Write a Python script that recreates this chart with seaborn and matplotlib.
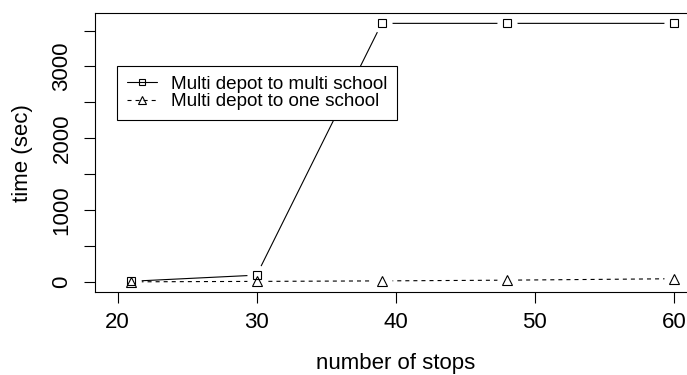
#!/usr/bin/env python3

import matplotlib
matplotlib.use('Agg')
import matplotlib.pyplot as plt
from matplotlib.lines import Line2D
import pandas as pd
import seaborn as sns

stops = [21, 30, 39, 48, 60]
multi_school = [10, 95, 3600, 3600, 3600]
one_school = [2, 8, 15, 25, 45]
series_names = ['Multi depot to multi school', 'Multi depot to one school']
x_ticks = [20, 30, 40, 50, 60]
y_ticks = [0, 500, 1000, 1500, 2000, 2500, 3000, 3500]
y_tick_labels = ['0', '', '1000', '', '2000', '', '3000', '']

if __name__ == '__main__':
    sns.set_style('white')
    plt.rcParams['font.family'] = ['Liberation Sans', 'DejaVu Sans']
    plt.rcParams['lines.scale_dashes'] = False
    for key in ['text.color', 'axes.labelcolor', 'xtick.color', 'ytick.color']:
        plt.rcParams[key] = 'black'

    df = pd.DataFrame({
        'stops': stops * 2,
        'time': multi_school + one_school,
        'series': [series_names[0]] * len(stops) + [series_names[1]] * len(stops),
    })

    fig = plt.figure(figsize=(6.87, 3.75), dpi=100)
    ax = fig.add_axes([0.1387, 0.2205, 0.8744, 0.7448])

    # lines first, then white blobs to cut gaps like R type="b", then open markers
    sns.lineplot(data=df, x='stops', y='time', style='series', color='black',
                 dashes={series_names[0]: '', series_names[1]: (2.9, 2.9)},
                 linewidth=0.8, legend=False, ax=ax, zorder=2)
    markers = {series_names[0]: ('s', 5.8), series_names[1]: ('^', 7.9)}
    for name in series_names:
        sub = df[df['series'] == name]
        sns.lineplot(data=sub, x='stops', y='time', marker='o', markersize=14.5,
                     markerfacecolor='white', markeredgecolor='none',
                     linestyle='none', ax=ax, zorder=2.2)
    for name in series_names:
        sub = df[df['series'] == name]
        mk, ms = markers[name]
        sns.lineplot(data=sub, x='stops', y='time', marker=mk, markersize=ms,
                     markerfacecolor='none', markeredgecolor='black',
                     markeredgewidth=0.8, linestyle='none', ax=ax, zorder=2.4)

    ax.set_xlim(18.4, 61.6)
    ax.set_ylim(-144, 3744)
    ax.set_xticks(x_ticks)
    ax.set_xticklabels([str(t) for t in x_ticks])
    ax.set_yticks(y_ticks)
    ax.set_yticklabels(y_tick_labels, rotation=90, va='center')
    ax.tick_params(axis='both', direction='out', length=7.9, width=0.8,
                   colors='black', labelsize=16, left=True, bottom=True)
    ax.tick_params(axis='x', pad=6.5)
    ax.tick_params(axis='y', pad=8.5)
    for sp in ax.spines.values():
        sp.set_color('black')
        sp.set_linewidth(0.8)

    ax.set_xlabel('number of stops', fontsize=16, labelpad=14.5)
    ax.set_ylabel('time (sec)', fontsize=16, labelpad=13)

    handles = [
        Line2D([], [], color='black', linewidth=0.8, marker='s', markersize=4.5,
               markerfacecolor='none', markeredgewidth=0.8),
        Line2D([], [], color='black', linewidth=0.8, linestyle=(0, (2.9, 2.9)),
               marker='^', markersize=5.5, markerfacecolor='none', markeredgewidth=0.8),
    ]
    leg = ax.legend(handles, series_names, loc='upper left',
                    bbox_to_anchor=(0.0366, 0.8102), borderaxespad=0,
                    fontsize=13.6, frameon=True, fancybox=False, framealpha=1,
                    edgecolor='black', handlelength=1.6, handletextpad=0.75,
                    borderpad=0.5, labelspacing=0.03)
    leg.get_frame().set_linewidth(0.8)
    leg.set_zorder(5)

    fig.savefig('out.png', dpi=100)
